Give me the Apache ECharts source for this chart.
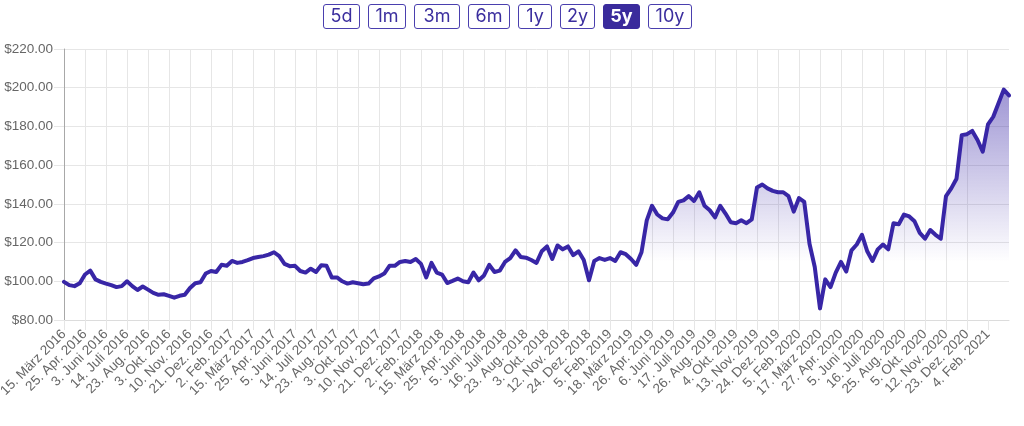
<!DOCTYPE html>
<html>
<head>
<meta charset="utf-8">
<script src="https://cdn.jsdelivr.net/npm/echarts@6/dist/echarts.min.js"></script>
<style>
  html, body { margin: 0; padding: 0; background: #fff; }
  #wrap { position: relative; width: 1024px; height: 426px; overflow: hidden; }
  #chart { position: absolute; left: 0; top: 0; width: 1024px; height: 426px; }
  #btns { position: absolute; left: 323px; top: 4px; display: flex; gap: 8px; }
  .b { box-sizing: border-box; height: 25px; border: 1.5px solid #4a3fae; border-radius: 3px;
       color: #3b2e9e; font-family: Inter, "Noto Sans", sans-serif; font-size: 18px;
       line-height: 22px; text-align: center; background: #fff; }
  .b.on { background: #3a2b9c; border-color: #3a2b9c; color: #fff; font-weight: 700; }
</style>
</head>
<body>
<div id="wrap">
  <div id="chart"></div>
  <div id="btns"></div>
</div>
<script>
// Range buttons
const rangeButtons = ['5d', '1m', '3m', '6m', '1y', '2y', '5y', '10y'];
const activeRange = '5y';
const buttonWidths = [37, 38, 46, 42, 34, 35, 37, 44];

// X-axis tick labels (one every 4 data points)
const tickLabels = [
  '15. März 2016', '25. Apr. 2016', '3. Juni 2016', '14. Juli 2016', '23. Aug. 2016',
  '3. Okt. 2016', '10. Nov. 2016', '21. Dez. 2016', '2. Feb. 2017', '15. März 2017',
  '25. Apr. 2017', '5. Juni 2017', '14. Juli 2017', '23. Aug. 2017', '3. Okt. 2017',
  '10. Nov. 2017', '21. Dez. 2017', '2. Feb. 2018', '15. März 2018', '25. Apr. 2018',
  '5. Juni 2018', '16. Juli 2018', '23. Aug. 2018', '3. Okt. 2018', '12. Nov. 2018',
  '24. Dez. 2018', '5. Feb. 2019', '18. März 2019', '26. Apr. 2019', '6. Juni 2019',
  '17. Juli 2019', '26. Aug. 2019', '4. Okt. 2019', '13. Nov. 2019', '24. Dez. 2019',
  '5. Feb. 2020', '17. März 2020', '27. Apr. 2020', '5. Juni 2020', '16. Juli 2020',
  '25. Aug. 2020', '5. Okt. 2020', '12. Nov. 2020', '23. Dez. 2020', '4. Feb. 2021'
];
const pointsPerTick = 4;

// Price values (USD), sampled ~every 7 trading days
const prices = [
  99.7, 98, 97.5, 99, 103.5, 105.5, 101, 99.7, 98.8, 98,
  97, 97.5, 100, 97.5, 95.5, 97.3, 95.7, 94, 93, 93.3,
  92.5, 91.5, 92.5, 93, 96.5, 99, 99.5, 104, 105.3, 104.8,
  108.5, 108, 110.5, 109.5, 110, 110.9, 112, 112.5, 113, 113.8,
  115, 113, 109, 107.8, 108, 105.3, 104.5, 106.5, 104.8, 108.3,
  108, 102, 102, 100, 98.8, 99.5, 99, 98.5, 98.8, 101.5,
  102.5, 104, 108, 108, 110, 110.5, 110, 111.5, 109, 102,
  109.5, 104.5, 103.5, 99.1, 100.2, 101.4, 100, 99.5, 104.5, 100.5,
  103, 108.5, 104.8, 105.5, 110, 112, 116, 112.5, 112.2, 111,
  109.5, 115.5, 118, 111.5, 118.5, 116.5, 118, 113.5, 115.5, 111,
  100.5, 110.5, 112, 111, 112, 110.5, 115, 114, 111.5, 108.5,
  115, 131.5, 139, 134.5, 132.5, 132, 135.5, 141, 141.8, 144,
  141.5, 146, 139, 136.7, 133, 139, 135, 130.5, 130, 131.5,
  130, 132, 148.5, 150, 148, 146.7, 146, 146, 144, 136,
  143, 141, 119.4, 107.4, 86, 101, 97, 104.5, 110, 105,
  116, 119, 124, 115.5, 110.5, 116.5, 119, 116.5, 130, 129.5,
  134.5, 133.5, 131, 125, 122, 126.5, 124, 122, 144, 148,
  153, 175.5, 176, 177.7, 173, 167, 181, 185, 192, 199,
  196
];

// Y-axis range
const yMin = 80, yMax = 220, yStep = 20;

// Buttons
const btnBox = document.getElementById('btns');
rangeButtons.forEach((t, i) => {
  const d = document.createElement('div');
  d.className = 'b' + (t === activeRange ? ' on' : '');
  d.style.width = buttonWidths[i] + 'px';
  d.textContent = t;
  btnBox.appendChild(d);
});

const seriesData = prices.map((v, i) => [i, v]);
const tickValues = tickLabels.map((_, k) => k * pointsPerTick);
const font = '"Liberation Sans", Arial, Helvetica, sans-serif';
const gridColor = '#e6e6e6';
const lineColor = '#3826a6';

const chart = echarts.init(document.getElementById('chart'), null, { renderer: 'canvas' });
chart.setOption({
  animation: false,
  grid: { left: 64, right: 15, top: 49, bottom: 106, outerBoundsMode: 'none' },
  xAxis: {
    type: 'value',
    min: 0,
    max: prices.length - 1,
    interval: pointsPerTick,
    axisLine: { show: true, lineStyle: { color: '#dcdcdc', width: 1 } },
    axisTick: { show: true, length: 10, customValues: tickValues, lineStyle: { color: gridColor } },
    splitLine: { show: true, showMaxLine: false, lineStyle: { color: gridColor, width: 1 } },
    axisLabel: {
      rotate: 45,
      margin: 12,
      color: '#666',
      fontFamily: font,
      fontSize: 13.5,
      customValues: tickValues,
      formatter: function (v) {
        const k = Math.round(v / pointsPerTick);
        return k < tickLabels.length ? tickLabels[k] : '';
      }
    }
  },
  yAxis: {
    type: 'value',
    min: yMin,
    max: yMax,
    interval: yStep,
    axisLine: { show: true, lineStyle: { color: '#a8a8a8', width: 1 } },
    axisTick: { show: true, length: 10, lineStyle: { color: gridColor } },
    splitLine: { show: true, lineStyle: { color: gridColor, width: 1 } },
    axisLabel: {
      margin: 11,
      color: '#666',
      fontFamily: font,
      fontSize: 13.5,
      formatter: v => '$' + v.toFixed(2)
    }
  },
  series: [{
    type: 'line',
    data: seriesData,
    showSymbol: false,
    symbol: 'none',
    smooth: false,
    lineStyle: { color: lineColor, width: 4, join: 'round', cap: 'round' },
    areaStyle: {
      color: {
        type: 'linear', x: 0, y: 49, x2: 0, y2: 262, global: true,
        colorStops: [
          { offset: 0, color: 'rgba(56,38,166,0.85)' },
          { offset: 1, color: 'rgba(56,38,166,0)' }
        ]
      }
    }
  }]
});
</script>
</body>
</html>
